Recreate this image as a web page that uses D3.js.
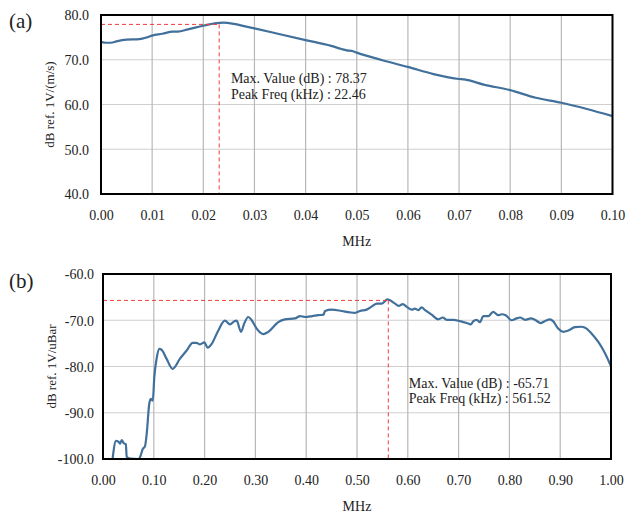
<!DOCTYPE html>
<html><head><meta charset="utf-8">
<script src="https://cdn.jsdelivr.net/npm/d3@7"></script>
<style>body{margin:0;background:#fff}svg{display:block}text{font-family:"Liberation Serif","Times New Roman",serif;fill:#222}</style>
</head><body><svg id="c" width="636" height="514"></svg>
<script>
// Panel (a) data: frequency (MHz) and level (dB ref. 1V/(m/s))
const freqA = [0,0.001,0.002,0.003,0.005,0.0075,0.009,0.010,0.012,0.014,0.015,0.017,0.020,0.0225,0.024,0.026,0.028,0.030,0.035,0.040,0.045,0.047,0.048,0.049,0.050,0.055,0.060,0.065,0.070,0.071,0.075,0.080,0.085,0.090,0.095,0.100];
const levelA = [74.0,73.8,73.8,74.1,74.5,74.6,75.0,75.4,75.8,76.3,76.3,76.8,77.6,78.2,78.3,78.0,77.5,77.0,75.7,74.4,73.1,72.4,72.1,72.0,71.6,69.9,68.4,66.8,65.7,65.6,64.4,63.2,61.5,60.4,59.0,57.4];
// Panel (b) data: frequency (MHz) and level (dB ref. 1V/uBar)
const freqB = [0.019,0.0256,0.030,0.0335,0.0368,0.041,0.045,0.0466,0.053,0.0695,0.074,0.078,0.0827,0.086,0.091,0.094,0.098,0.101,0.106,0.111,0.1155,0.125,0.137,0.1516,0.165,0.1765,0.184,0.191,0.1995,0.206,0.214,0.227,0.240,0.250,0.2585,0.263,0.2717,0.278,0.286,0.2927,0.3025,0.3156,0.3254,0.345,0.358,0.378,0.388,0.398,0.412,0.424,0.434,0.437,0.450,0.470,0.486,0.496,0.506,0.519,0.531,0.539,0.549,0.560,0.565,0.575,0.583,0.590,0.598,0.608,0.614,0.621,0.627,0.634,0.647,0.660,0.669,0.6765,0.690,0.703,0.716,0.724,0.729,0.7356,0.742,0.7487,0.7585,0.768,0.778,0.785,0.7927,0.8045,0.814,0.821,0.831,0.8425,0.850,0.862,0.871,0.880,0.886,0.896,0.906,0.916,0.929,0.941,0.949,0.962,0.975,0.985,0.992,1.0];
const levelB = [-99.8,-96.1,-96.2,-96.7,-95.9,-96.6,-96.8,-99.5,-99.9,-100.0,-99.3,-97.9,-97.2,-94.6,-88.1,-87.0,-87.4,-82.3,-78.0,-76.2,-76.4,-78.3,-80.5,-78.3,-76.5,-74.9,-74.9,-75.2,-74.8,-75.9,-75.1,-72.2,-70.1,-70.9,-70.2,-70.1,-72.5,-70.7,-69.3,-70.0,-71.8,-73.0,-72.5,-70.4,-69.8,-69.6,-69.1,-69.3,-69.1,-68.9,-68.8,-68.0,-67.7,-68.0,-68.3,-68.4,-68.0,-67.7,-66.9,-66.4,-66.4,-65.5,-65.7,-66.4,-66.9,-66.5,-67.1,-67.7,-67.5,-67.8,-67.2,-67.8,-68.8,-69.8,-69.4,-69.9,-69.9,-70.2,-70.6,-70.9,-70.2,-69.9,-70.4,-69.1,-69.1,-68.2,-68.9,-68.7,-68.9,-70.0,-69.6,-69.4,-69.9,-69.6,-69.9,-70.6,-70.1,-69.8,-70.2,-71.8,-72.5,-72.2,-71.5,-71.4,-71.6,-72.9,-74.7,-76.5,-78.0,-80.0];
const xTicksA = [0,0.01,0.02,0.03,0.04,0.05,0.06,0.07,0.08,0.09,0.10];
const yTicksA = [40,50,60,70,80];
const xTicksB = [0,0.1,0.2,0.3,0.4,0.5,0.6,0.7,0.8,0.9,1.0];
const yTicksB = [-100,-90,-80,-70,-60];
const peakA = [0.0231, 77.9];   // marker position
const peakB = [0.5616, -65.71];
const annA = ["Max. Value (dB) : 78.37", "Peak Freq (kHz) : 22.46"];
const annB = ["Max. Value (dB) : -65.71", "Peak Freq (kHz) : 561.52"];
const annPosA = [0.0254, 64.8];
const annPosB = [0.602, -84.6];
const panels = [
  {tag:"(a)", fx:freqA, fy:levelA, xt:xTicksA, yt:yTicksA, xd:[0,0.1], yd:[40,80], box:[101,15,612.5,194], ylab:"dB ref. 1V/(m/s)", ylabX:49, tickR:89, peak:peakA, ann:annA, annPos:annPosA, tagY:21},
  {tag:"(b)", fx:freqB, fy:levelB, xt:xTicksB, yt:yTicksB, xd:[0,1], yd:[-100,-60], box:[103,274,611,459], ylab:"dB ref. 1V/uBar", ylabX:51, tickR:94, peak:peakB, ann:annB, annPos:annPosB, tagY:281}
];
const svg = d3.select("#c");
panels.forEach(p => {
  const [L,T,R,B] = p.box;
  const x = d3.scaleLinear().domain(p.xd).range([L,R]);
  const y = d3.scaleLinear().domain(p.yd).range([B,T]);
  const g = svg.append("g");
  g.selectAll(".hg").data(p.yt).join("line").attr("x1",L).attr("x2",R).attr("y1",d=>y(d)).attr("y2",d=>y(d)).attr("stroke","#cfcfcf").attr("stroke-width",1);
  g.selectAll(".vg").data(p.xt).join("line").attr("y1",T).attr("y2",B).attr("x1",d=>x(d)).attr("x2",d=>x(d)).attr("stroke","#b8b8b8").attr("stroke-width",1.2);
  const xa = d3.axisBottom(x).tickValues(p.xt).tickFormat(v=>v.toFixed(2)).tickSize(0).tickPadding(0);
  const ax = g.append("g").attr("transform",`translate(0,${B})`).call(xa);
  ax.attr("font-family",null).attr("font-size",null);
  ax.select(".domain").remove();
  ax.selectAll("text").attr("dy",null).attr("y",26).style("font-size","14px").attr("fill","#222");
  const ya = d3.axisLeft(y).tickValues(p.yt).tickFormat(v=>v.toFixed(1)).tickSize(0).tickPadding(0);
  const ay = g.append("g").attr("transform",`translate(${p.tickR},0)`).call(ya);
  ay.attr("font-family",null).attr("font-size",null);
  ay.select(".domain").remove();
  ay.selectAll("text").attr("x",0).attr("dy","0.35em").style("font-size","14px").attr("fill","#222");
  const line = d3.line().x((d,i)=>x(p.fx[i])).y(d=>y(d)).curve(d3.curveMonotoneX);
  g.append("path").datum(p.fy).attr("d",line).attr("fill","none").attr("stroke","#41709b").attr("stroke-width",2.2).attr("stroke-linejoin","round");
  g.append("line").attr("x1",L).attr("x2",x(p.peak[0])).attr("y1",y(p.peak[1])).attr("y2",y(p.peak[1])).attr("stroke","#f03c3c").attr("stroke-width",1).attr("stroke-dasharray","4,3");
  g.append("line").attr("x1",x(p.peak[0])).attr("x2",x(p.peak[0])).attr("y1",y(p.peak[1])).attr("y2",B).attr("stroke","#f03c3c").attr("stroke-width",1).attr("stroke-dasharray","4,3");
  p.ann.forEach((t,i)=>{
    g.append("text").attr("x",x(p.annPos[0])).attr("y",y(p.annPos[1])+i*15.5).style("font-size","14px").text(t);
  });
  g.append("rect").attr("x",L).attr("y",T).attr("width",R-L).attr("height",B-T).attr("fill","none").attr("stroke","#000").attr("stroke-width",2);
  g.append("text").attr("x",(L+R)/2).attr("y",B+52).attr("text-anchor","middle").style("font-size","14px").text("MHz");
  g.append("text").attr("transform",`translate(${p.ylabX},${(T+B)/2}) rotate(-90)`).attr("text-anchor","middle").attr("dy","0.35em").style("font-size","13px").text(p.ylab);
  g.append("text").attr("x",9).attr("y",p.tagY).attr("dy","0.35em").style("font-size","21px").text(p.tag);
});
</script></body></html>
